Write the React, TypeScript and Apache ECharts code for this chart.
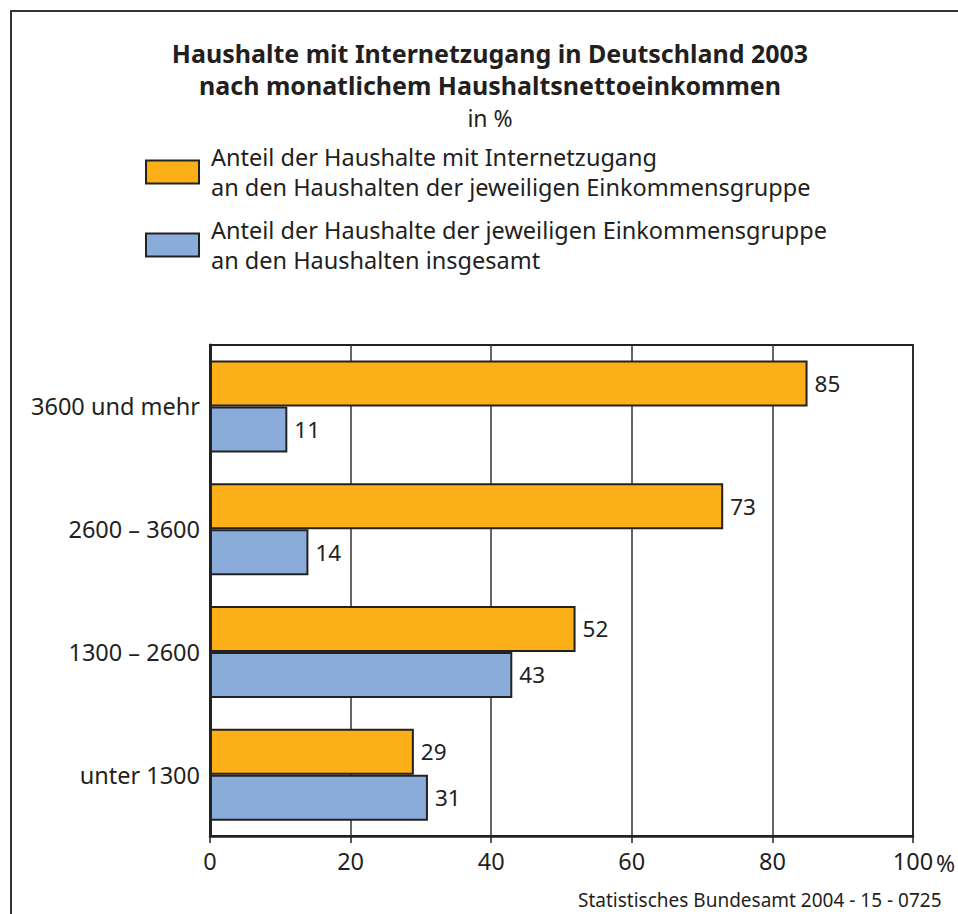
import React, { useEffect, useRef } from 'react';
import * as echarts from 'echarts';

const categories = ['unter 1300', '1300 – 2600', '2600 – 3600', '3600 und mehr'];
const internetShare = [29, 52, 73, 85];
const groupShare = [31, 43, 14, 11];
const seriesNames = [
  'Anteil der Haushalte mit Internetzugang\nan den Haushalten der jeweiligen Einkommensgruppe',
  'Anteil der Haushalte der jeweiligen Einkommensgruppe\nan den Haushalten insgesamt',
];
const titleLine1 = 'Haushalte mit Internetzugang in Deutschland 2003';
const titleLine2 = 'nach monatlichem Haushaltsnettoeinkommen';
const unitText = 'in %';
const sourceText = 'Statistisches Bundesamt 2004 - 15 - 0725';

const FONT = '"Noto Sans", sans-serif';
const TEXT = '#231f20';
const ORANGE = '#fcaf17';
const BLUE = '#8aacda';

export default function App() {
  const ref = useRef<HTMLDivElement>(null);
  useEffect(() => {
    if (!ref.current) return;
    const chart = echarts.init(ref.current, null, { renderer: 'svg' });
    const barLabel = {
      show: true,
      position: 'right',
      distance: 7,
      fontSize: 22.5,
      fontFamily: FONT,
      color: TEXT,
    };
    chart.setOption({
      animation: false,
      textStyle: { fontFamily: FONT },
      grid: {
        left: 210,
        right: 45,
        top: 345,
        bottom: 78,
        show: true,
        borderColor: '#222',
        borderWidth: 2,
        backgroundColor: 'transparent',
      },
      legend: {
        orient: 'vertical',
        left: 140,
        top: 137,
        itemWidth: 53,
        itemHeight: 23,
        itemGap: 13,
        icon: 'rect',
        data: seriesNames,
        selectedMode: false,
        textStyle: {
          fontFamily: FONT,
          fontSize: 23.5,
          lineHeight: 30,
          color: TEXT,
          padding: [0, 0, 0, 7],
        },
      },
      xAxis: {
        type: 'value',
        min: 0,
        max: 100,
        interval: 20,
        axisLine: { show: true, lineStyle: { color: '#222', width: 2.5 } },
        axisTick: { show: true, length: 7, lineStyle: { color: '#222', width: 1.5 } },
        splitLine: { show: true, lineStyle: { color: '#333', width: 1.5 } },
        axisLabel: {
          fontFamily: FONT,
          fontSize: 23.5,
          color: TEXT,
          margin: 13,
        },
      },
      yAxis: {
        type: 'category',
        data: categories,
        axisLine: { show: true, lineStyle: { color: '#222', width: 3 } },
        axisTick: { show: false },
        axisLabel: {
          fontFamily: FONT,
          fontSize: 23.5,
          color: TEXT,
          margin: 10,
        },
      },
      series: [
        {
          name: seriesNames[0],
          type: 'bar',
          data: internetShare,
          barWidth: 46,
          barGap: '0%',
          itemStyle: { color: ORANGE, borderColor: '#222', borderWidth: 2 },
          label: barLabel,
        },
        {
          name: seriesNames[1],
          type: 'bar',
          data: groupShare,
          barWidth: 46,
          barGap: '0%',
          itemStyle: { color: BLUE, borderColor: '#222', borderWidth: 2 },
          label: barLabel,
        },
      ],
      graphic: [
        {
          type: 'rect',
          shape: { x: 11, y: 11, width: 1000, height: 1000 },
          style: { fill: 'none', stroke: '#333', lineWidth: 2 },
          silent: true,
        },
        {
          type: 'text',
          x: 490,
          y: 53,
          style: {
            text: titleLine1,
            fontFamily: FONT,
            fontSize: 25,
            fontWeight: 'bold',
            fill: TEXT,
            align: 'center',
            verticalAlign: 'middle',
          },
        },
        {
          type: 'text',
          x: 490,
          y: 85,
          style: {
            text: titleLine2,
            fontFamily: FONT,
            fontSize: 25,
            fontWeight: 'bold',
            fill: TEXT,
            align: 'center',
            verticalAlign: 'middle',
          },
        },
        {
          type: 'text',
          x: 490,
          y: 118,
          style: {
            text: unitText,
            fontFamily: FONT,
            fontSize: 23,
            fill: TEXT,
            align: 'center',
            verticalAlign: 'middle',
          },
        },
        {
          type: 'text',
          x: 936,
          y: 863,
          style: {
            text: '%',
            fontFamily: FONT,
            fontSize: 23,
            fill: TEXT,
            align: 'left',
            verticalAlign: 'middle',
          },
        },
        {
          type: 'text',
          x: 578,
          y: 900,
          style: {
            text: sourceText,
            fontFamily: FONT,
            fontSize: 19,
            fill: TEXT,
            align: 'left',
            verticalAlign: 'middle',
          },
        },
      ],
    });
    return () => chart.dispose();
  }, []);
  return (
    <div
      ref={ref}
      style={{ position: 'fixed', left: 0, top: 0, width: 958, height: 914, background: '#fff' }}
    />
  );
}
